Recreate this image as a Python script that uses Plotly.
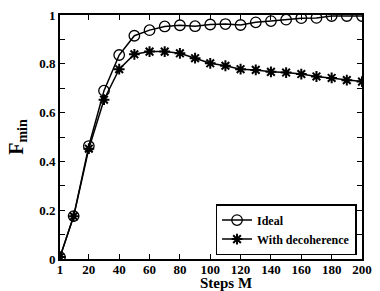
import plotly.graph_objects as go

steps = [1, 10, 20, 30, 40, 50, 60, 70, 80, 90, 100, 110, 120, 130, 140, 150, 160, 170, 180, 190, 200]
ideal = [0.008, 0.176, 0.463, 0.69, 0.836, 0.915, 0.938, 0.953, 0.958, 0.954, 0.961, 0.963, 0.959, 0.970, 0.975, 0.981, 0.987, 0.988, 0.996, 0.996, 0.996]
decoh = [0.008, 0.175, 0.452, 0.653, 0.778, 0.839, 0.850, 0.850, 0.843, 0.823, 0.802, 0.792, 0.778, 0.775, 0.767, 0.764, 0.758, 0.748, 0.742, 0.733, 0.727]
xticks = [1, 20, 40, 60, 80, 100, 120, 140, 160, 180, 200]
yticks = [0, 0.2, 0.4, 0.6, 0.8, 1]
ytick_text = ["0", "0.2", "0.4", "0.6", "0.8", "1"]

font_family = "Liberation Serif"

fig = go.Figure()
fig.add_trace(go.Scatter(
    x=steps, y=ideal, mode="lines+markers", name="<b>Ideal</b>",
    line=dict(color="black", width=1.5),
    marker=dict(symbol="circle-open", size=10.5, color="black", line=dict(width=1.3)),
))
fig.add_trace(go.Scatter(
    x=steps, y=decoh, mode="lines+markers", name="<b>With decoherence</b>",
    line=dict(color="black", width=1.5),
    marker=dict(symbol="asterisk-open", size=9, color="black", line=dict(width=2)),
))

axis_common = dict(
    showline=True, linecolor="black", linewidth=1.8, mirror="ticks",
    ticks="inside", ticklen=5, tickcolor="black", tickwidth=1,
    showgrid=False, zeroline=False,
    tickfont=dict(family=font_family, size=13, color="black"),
)

fig.update_xaxes(
    range=[1, 200], tickvals=xticks, ticktext=[f"<b>{v}</b>" for v in xticks],
    ticklabelstandoff=-3,
    **axis_common,
)
fig.update_yaxes(
    range=[0, 1], tickvals=yticks, ticktext=[f"<b>{t}</b>" for t in ytick_text],
    minor=dict(tickvals=[0.1, 0.3, 0.5, 0.7, 0.9], ticks="inside", ticklen=5, tickcolor="black"),
    title=dict(text="<b>F<sub>min</sub></b>", font=dict(family=font_family, size=20, color="black"), standoff=10),
    **axis_common,
)

fig.add_annotation(
    text="<b>Steps M</b>", xref="paper", yref="paper", x=0.55, y=-0.058,
    xanchor="center", yanchor="top", showarrow=False,
    font=dict(family=font_family, size=15, color="black"),
)

fig.update_layout(
    width=380, height=291,
    margin=dict(l=60, r=8, t=14, b=32),
    plot_bgcolor="white", paper_bgcolor="white",
    showlegend=True,
    legend=dict(
        x=0.515, y=0.016, xanchor="left", yanchor="bottom",
        bgcolor="white", bordercolor="black", borderwidth=1.5,
        font=dict(family=font_family, size=12, color="black"),
        tracegroupgap=0, itemwidth=30,
    ),
)

fig.write_html("out.html", config={"displayModeBar": False},
               post_script="document.body.style.margin='0';")
